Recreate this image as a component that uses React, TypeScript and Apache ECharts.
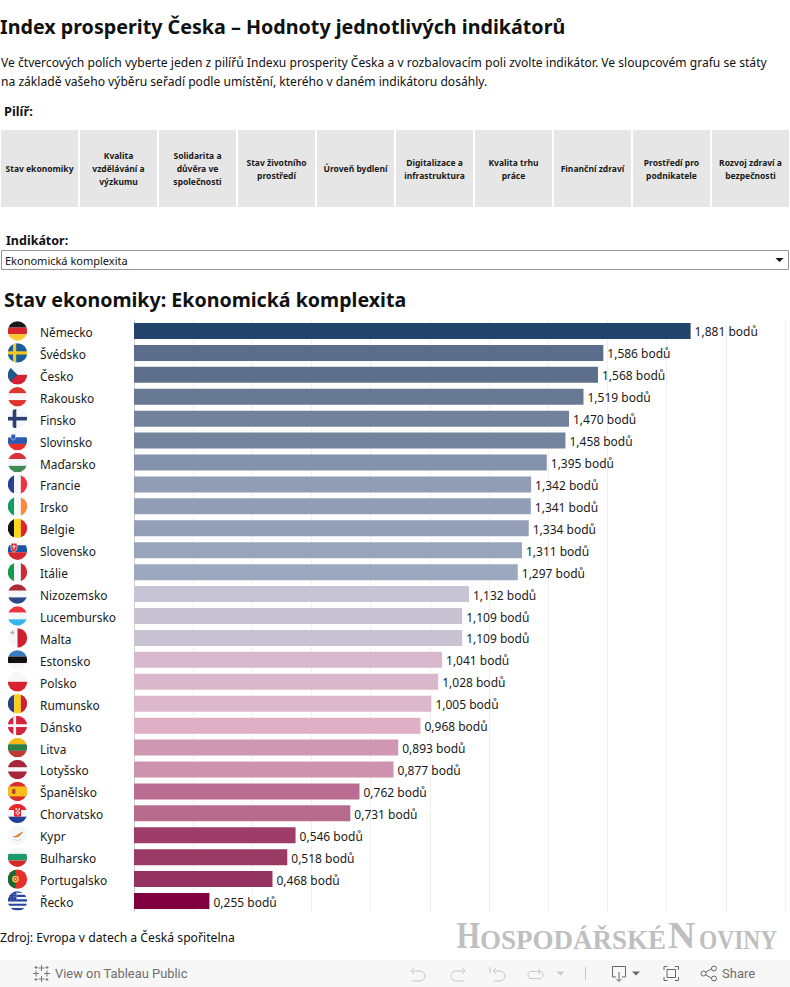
import React, { useEffect, useRef } from "react";
import * as echarts from "echarts";

const countries = ["Německo","Švédsko","Česko","Rakousko","Finsko","Slovinsko","Maďarsko","Francie","Irsko","Belgie","Slovensko","Itálie","Nizozemsko","Lucembursko","Malta","Estonsko","Polsko","Rumunsko","Dánsko","Litva","Lotyšsko","Španělsko","Chorvatsko","Kypr","Bulharsko","Portugalsko","Řecko"];
const values = [1.881,1.586,1.568,1.519,1.47,1.458,1.395,1.342,1.341,1.334,1.311,1.297,1.132,1.109,1.109,1.041,1.028,1.005,0.968,0.893,0.877,0.762,0.731,0.546,0.518,0.468,0.255];
const barColors = ["#22436b","#5c6d8b","#5e6f8c","#667892","#72829c","#74849d","#8492ab","#919db4","#929eb5","#939fb6","#98a4ba","#9ca8be","#c6c4d5","#c9c2d3","#c9c2d3","#d8b8cc","#dab8cc","#ddb7cb","#dfb0c5","#d097b2","#cd92ae","#ba6d90","#b66b8d","#9d3d68","#9a3b66","#93325f","#80003f"];
const pillars = ["Stav ekonomiky","Kvalita\nvzdělávání a\nvýzkumu","Solidarita a\ndůvěra ve\nspolečnosti","Stav životního\nprostředí","Úroveň bydlení","Digitalizace a\ninfrastruktura","Kvalita trhu\npráce","Finanční zdraví","Prostředí pro\npodnikatele","Rozvoj zdraví a\nbezpečnosti"];

const W = "#f5f7fa";
const h3 = (a: string, b: string, c: string, extra = "") => `<rect width="20" height="6.67" fill="${a}"/><rect y="6.67" width="20" height="6.67" fill="${b}"/><rect y="13.33" width="20" height="6.67" fill="${c}"/>${extra}`;
const v3 = (a: string, b: string, c: string) => `<rect width="6.67" height="20" fill="${a}"/><rect x="6.67" width="6.67" height="20" fill="${b}"/><rect x="13.33" width="6.67" height="20" fill="${c}"/>`;
const flagArt = [
  h3("#1a1a1a", "#d8272d", "#fdc82f"),
  `<rect width="20" height="20" fill="#1b5c9e"/><rect x="5.5" width="3.2" height="20" fill="#f3c81f"/><rect y="8.4" width="20" height="3.2" fill="#f3c81f"/>`,
  `<rect width="20" height="10" fill="${W}"/><rect y="10" width="20" height="10" fill="#d32233"/><path d="M0 0L10 10L0 20Z" fill="#1f5a8a"/>`,
  h3("#e0352f", W, "#e0352f"),
  `<rect width="20" height="20" fill="${W}"/><rect x="5.2" width="3.6" height="20" fill="#2c3f73"/><rect y="8.2" width="20" height="3.6" fill="#2c3f73"/>`,
  h3(W, "#2d57b0", "#ea2f2a", `<path d="M3.5 3.6h4.5v3.2q0 1.8-2.25 2.8q-2.25-1-2.25-2.8z" fill="#2d57b0" stroke="${W}" stroke-width=".6"/>`),
  h3("#d4343f", W, "#3f8a55"),
  v3("#283f92", W, "#ee3340"),
  v3("#169b62", W, "#ff883e"),
  v3("#111111", "#fcd916", "#e1252c"),
  `<rect y="-1" width="20" height="6" fill="${W}"/><rect y="5" width="20" height="7" fill="#1c55a6"/><rect y="12" width="20" height="8" fill="#d2282e"/><path d="M3.5 3h6v5q0 2.6-3 4q-3-1.400-3-4z" fill="#d2282e" stroke="${W}" stroke-width=".6"/><rect x="6" y="4.400" width="1" height="5" fill="${W}"/><rect x="4.800" y="6" width="3.400" height=".9" fill="${W}"/>`,
  v3("#169a4d", W, "#cf2a39"),
  h3("#ad2a38", W, "#2a4b87"),
  h3("#ef3340", W, "#39b4ea"),
  `<rect width="10" height="20" fill="${W}"/><rect x="10" width="10" height="20" fill="#cf2030"/><path d="M4.400 2.600h1.200v1.400h1.400v1.200h-1.400v1.400h-1.200v-1.400h-1.400v-1.200h1.400z" fill="#a8a8a8"/>`,
  h3("#3a7cc0", "#111111", W),
  `<rect width="20" height="10" fill="${W}"/><rect y="10" width="20" height="10" fill="#d8232f"/>`,
  v3("#2b3f87", "#f7d117", "#cf2136"),
  `<rect width="20" height="20" fill="#d3243c"/><rect x="5.800" width="2.800" height="20" fill="${W}"/><rect y="8.600" width="20" height="2.800" fill="${W}"/>`,
  h3("#f6b91a", "#2f7d47", "#bf3a30"),
  `<rect width="20" height="8" fill="#a52638"/><rect y="8" width="20" height="4" fill="${W}"/><rect y="12" width="20" height="8" fill="#a52638"/>`,
  `<rect width="20" height="20" fill="#d92f2a"/><rect y="5" width="20" height="10" fill="#f8bf1b"/><rect x="4.500" y="7.500" width="3.500" height="5" rx="1" fill="#b04a26"/>`,
  h3("#e8282e", W, "#1f3f95", `<rect x="6.500" y="5" width="7" height="8.500" rx="1.500" fill="#e8282e"/><path d="M8 5h1.500v1.700H8zM11 5h1.500v1.700H11zM9.500 6.700H11v1.700H9.500zM8 8.400h1.500v1.700H8zM11 8.400h1.500v1.700H11zM9.500 10.100H11v1.700H9.500z" fill="${W}"/>`),
  `<rect width="20" height="20" fill="${W}"/><path d="M4.500 11.500q3-.2 6-2.500q2-1.500 5.500-2.700q-1.500 2.200-3 3.200q-.5 2-3.500 2.500q-2.500.6-5-.5z" fill="#d5883a"/><path d="M6 14q4 2.500 8 0" fill="none" stroke="#c5d0c0" stroke-width=".7"/>`,
  h3(W, "#1f9a6b", "#d62a2a"),
  `<rect width="20" height="20" fill="#e5312c"/><rect width="8" height="20" fill="#176b33"/><circle cx="8" cy="10" r="3.400" fill="#f4d23b"/><circle cx="8" cy="10" r="2" fill="#d92a2a"/><rect x="7.200" y="9" width="1.600" height="2" fill="${W}"/>`,
  `<rect width="20" height="20" fill="${W}"/><path d="M0 0.500h20M0 4.900h20M0 9.300h20M0 13.700h20M0 18.100h20" stroke="#2a45a0" stroke-width="2.200"/><rect width="9" height="9" fill="${W}"/><rect x="3.400" width="2.200" height="9" fill="#2a45a0"/><rect y="3.400" width="9" height="2.200" fill="#2a45a0"/><rect width="3.400" height="3.400" fill="#2a45a0"/><rect x="5.600" width="3.400" height="3.400" fill="#2a45a0"/><rect y="5.600" width="3.400" height="3.400" fill="#2a45a0"/><rect x="5.600" y="5.600" width="3.400" height="3.400" fill="#2a45a0"/>`,
];
const flagUrl = (art: string) => "data:image/svg+xml;charset=utf-8," + encodeURIComponent(`<svg xmlns="http://www.w3.org/2000/svg" width="20" height="20" viewBox="0 0 20 20"><defs><clipPath id="c"><circle cx="10" cy="10" r="9.700"/></clipPath></defs><g clip-path="url(#c)">${art}</g></svg>`);

const FONT = "'Noto Sans'";
const SERIF = "'Liberation Serif'";
const LOGO = "#bfbfbf";
const label = (text: string, x: number, y: number, size: number, weight: any = "normal", fill = "#111", extra: any = {}) => ({
  type: "text", x, y, silent: true,
  style: { text, fontFamily: FONT, fontSize: size, fontWeight: weight, fill, textVerticalAlign: "middle", ...extra },
});
const logo = (text: string, x: number, y: number, size: number, scaleX = 1) => ({
  type: "text", silent: true, x, y, scaleX,
  style: { text, fontFamily: SERIF, fontWeight: "bold", fontSize: size, fill: LOGO, textVerticalAlign: "bottom" },
});

const icons: Record<string, string> = {
  undo: "M414 968l-3 3l3 3M411 971h9a5 5 0 0 1 0 10h-8",
  redo: "M462 968l3 3l-3 3M465 971h-9a5 5 0 0 0 0 10h8",
  revert: "M490 967v6M496 968l-3 3l3 3M493 971h7a5 5 0 0 1 0 10h-6",
  refresh: "M538 969l3 2.500l-3 2.500M541 971.500h-11a4 4 0 0 0 0 7h7a4 4 0 0 0 4 -7",
  sep: "M585.500 967v13",
  download: "M622 977h3.500v-10.500h-13v10.500h3.500M619 972v9M616.500 979l2.500 2.500l2.500-2.500",
  full: "M664 970v-3.500h3.500M675 966.500h3.500v3.500M678.500 977v3.500h-3.500M667.500 980.500h-3.500v-3.500M667 969.500h8.500v8h-8.500z",
  share: "M706 972l6-3.500M706 975l6 3.500M711.500 968.500a2.500 2.500 0 1 0 5 0a2.500 2.500 0 1 0 -5 0M711.500 978.500a2.500 2.500 0 1 0 5 0a2.500 2.500 0 1 0 -5 0M701 973.500a2.500 2.500 0 1 0 5 0a2.500 2.500 0 1 0 -5 0",
  tableau: "M41.500 965v6M38.500 968h6M41.500 976v6M38.500 979h6M36 970.500v6M33 973.500h6M47 970.500v6M44 973.500h6M36 966v3M34.500 967.500h3M47 966v3M45.500 967.500h3M36 978v3M34.500 979.500h3M47 978v3M45.500 979.500h3",
};
Object.keys(icons).forEach((k) => echarts.graphic.registerShape("ic_" + k, echarts.graphic.extendPath(icons[k], {})));
const icon = (k: string, stroke: string, w = 1) => ({ type: "ic_" + k, x: 0, y: 0, silent: true, style: { fill: "none", stroke, lineWidth: w } });
const tri = (cx: number, cy: number, r: number, h: number, fill: string) => ({ type: "polygon", silent: true, shape: { points: [[cx - r, cy - h / 2], [cx + r, cy - h / 2], [cx, cy + h / 2]] }, style: { fill } });

export default function App() {
  const ref = useRef<HTMLDivElement>(null);
  useEffect(() => {
    document.body.style.margin = "0";
    const chart = echarts.init(ref.current!, undefined, { renderer: "svg" });
    const rich: any = { n: { fontFamily: FONT, fontSize: 11.9, color: "#1a1a1a", padding: [2, 0, 0, 12.5] } };
    flagArt.forEach((a, i) => { rich["f" + i] = { width: 20, height: 20, backgroundColor: { image: flagUrl(a) } }; });
    const graphics: any[] = [
      label("Index prosperity Česka – Hodnoty jednotlivých indikátorů", 0, 26.5, 19.7, "bold"),
      label("Ve čtvercových polích vyberte jeden z pilířů Indexu prosperity Česka a v rozbalovacím poli zvolte indikátor. Ve sloupcovém grafu se státy", 1, 62, 12.1),
      label("na základě vašeho výběru seřadí podle umístění, kterého v daném indikátoru dosáhly.", 1, 81, 12.1),
      label("Pilíř:", 4, 111, 12.8, "bold"),
      label("Indikátor:", 6, 240, 12.5, "bold"),
      { type: "rect", silent: true, shape: { x: 1.5, y: 250.5, width: 787, height: 19 }, style: { fill: "#fff", stroke: "#969696", lineWidth: 1 } },
      label("Ekonomická komplexita", 5, 260, 11),
      tri(779.5, 260, 4, 4, "#111"),
      label("Stav ekonomiky: Ekonomická komplexita", 4, 299.5, 19.6, "bold"),
      label("Zdroj: Evropa v datech a Česká spořitelna", 0, 937.5, 12.2),
      { type: "rect", silent: true, shape: { x: 0, y: 960, width: 790, height: 27 }, style: { fill: "#f7f7f7" } },
      logo("H", 456.5, 954, 38, 0.8),
      logo("OSPODÁŘSKÉ", 480, 953, 27),
      logo("N", 668, 954, 38),
      logo("OVINY", 699, 953, 27, 0.87),
      { type: "text", silent: true, x: 55, y: 973.5, style: { text: "View on Tableau Public", fontFamily: "Roboto", fontSize: 12.9, fill: "#6e6e6e", textVerticalAlign: "middle" } },
      { type: "text", silent: true, x: 722, y: 973.5, style: { text: "Share", fontFamily: "Roboto", fontSize: 13, fill: "#6e6e6e", textVerticalAlign: "middle" } },
      icon("tableau", "#777"), icon("undo", "#c8c8c8"), icon("redo", "#c8c8c8"), icon("revert", "#c8c8c8"), icon("refresh", "#c8c8c8"),
      tri(560.5, 973.5, 4, 4, "#c8c8c8"), icon("sep", "#c8c8c8"), icon("download", "#666"), tri(636, 973.5, 4, 4, "#666"), icon("full", "#666"), icon("share", "#666"),
    ];
    pillars.forEach((p, i) => {
      graphics.push({ type: "rect", silent: true, shape: { x: 1 + 79 * i, y: 130, width: 77, height: 77 }, style: { fill: "#e6e6e6" } });
      graphics.push(label(p, 39.5 + 79 * i, 168.5, 8.5, "bold", "#1a1a1a", { textAlign: "center", lineHeight: 13 }));
    });
    chart.setOption({
      animation: false,
      grid: { left: 134, top: 320, width: 651, height: 592, containLabel: false },
      xAxis: { type: "value", min: 0, max: 2.2, interval: 0.2, axisLabel: { show: false }, axisTick: { show: false }, axisLine: { show: false }, splitLine: { show: true, lineStyle: { color: "#f0f0f0", width: 1 } } },
      yAxis: {
        type: "category", inverse: true, data: countries,
        axisTick: { show: false },
        axisLine: { show: true, lineStyle: { color: "#c8c8c8", type: "dotted", width: 1 } },
        axisLabel: { align: "left", margin: 126.5, interval: 0, rich, formatter: (v: string, i: number) => `{f${i}|\u00a0}{n|${v}}` },
      },
      series: [{
        type: "bar", data: values, barWidth: 16,
        itemStyle: { color: (p: any) => barColors[p.dataIndex] },
        label: { show: true, position: "right", distance: 4, offset: [0, 1], fontFamily: FONT, fontSize: 12, color: "#1a1a1a", formatter: (p: any) => p.value.toFixed(3).replace(".", ",") + " bodů" },
      }],
      graphic: { elements: graphics },
    });
    return () => chart.dispose();
  }, []);
  return <div ref={ref} style={{ position: "absolute", left: 0, top: 0, width: 790, height: 987 }} />;
}
